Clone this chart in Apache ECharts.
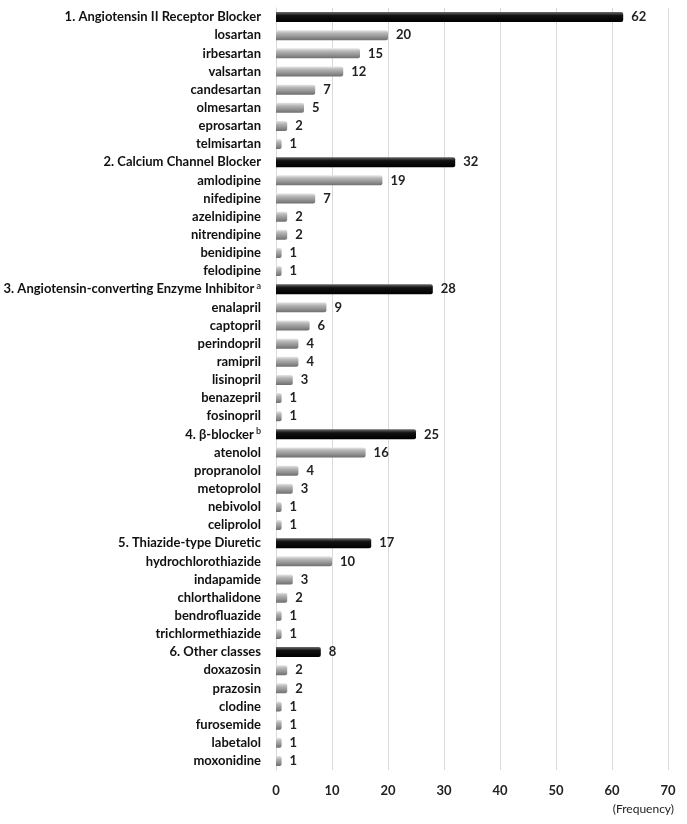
<!DOCTYPE html>
<html>
<head>
<meta charset="utf-8">
<script src="https://cdn.jsdelivr.net/npm/echarts@6/dist/echarts.min.js"></script>
<style>
  html, body { margin: 0; padding: 0; background: #fff; }
  #chart { width: 687px; height: 824px; }
</style>
</head>
<body>
<div id="chart"></div>
<script>
// category labels (top to bottom)
var labels = [
    "1. Angiotensin II Receptor Blocker", "losartan", "irbesartan", "valsartan", "candesartan", "olmesartan", "eprosartan", "telmisartan",
    "2. Calcium Channel Blocker", "amlodipine", "nifedipine", "azelnidipine", "nitrendipine", "benidipine", "felodipine",
    "3. Angiotensin-converting Enzyme Inhibitor", "enalapril", "captopril", "perindopril", "ramipril", "lisinopril", "benazepril", "fosinopril",
    "4. β-blocker", "atenolol", "propranolol", "metoprolol", "nebivolol", "celiprolol",
    "5. Thiazide-type Diuretic", "hydrochlorothiazide", "indapamide", "chlorthalidone", "bendrofluazide", "trichlormethiazide",
    "6. Other classes", "doxazosin", "prazosin", "clodine", "furosemide", "labetalol", "moxonidine"
];
var values = [
    62, 20, 15, 12, 7, 5, 2, 1,
    32, 19, 7, 2, 2, 1, 1,
    28, 9, 6, 4, 4, 3, 1, 1,
    25, 16, 4, 3, 1, 1,
    17, 10, 3, 2, 1, 1,
    8, 2, 2, 1, 1, 1, 1
];
// class rows drawn as black bars
var headerRows = [0, 8, 15, 23, 29, 35];
// footnote marks on some class labels
var footnotes = { "3. Angiotensin-converting Enzyme Inhibitor": "a", "4. β-blocker": "b" };
var xTicks = [0, 10, 20, 30, 40, 50, 60, 70];

var blackFill = new echarts.graphic.LinearGradient(0, 0, 0, 1, [
    { offset: 0, color: "#6a6a6a" },
    { offset: 0.35, color: "#111" },
    { offset: 1, color: "#000" }
]);
var grayFill = new echarts.graphic.LinearGradient(0, 0, 0, 1, [
    { offset: 0, color: "#e6e6e6" },
    { offset: 0.3, color: "#b5b5b5" },
    { offset: 0.7, color: "#8e8e8e" },
    { offset: 1, color: "#6e6e6e" }
]);

var seriesData = values.map(function (v, i) {
    var isHead = headerRows.indexOf(i) >= 0;
    return {
        value: v,
        itemStyle: {
            color: isHead ? blackFill : grayFill,
            borderRadius: [0, 2, 2, 0]
        }
    };
});

var mychart = echarts.init(document.getElementById("chart"));
var option = {
    animation: false,
    title: {
        text: "(Frequency)",
        right: 8,
        bottom: 4,
        textStyle: {
            fontFamily: "Lato",
            fontSize: 12,
            fontWeight: "normal",
            color: "#222"
        }
    },
    grid: {
        left: 276,
        right: 19,
        top: 8,
        bottom: 54
    },
    xAxis: {
        type: "value",
        min: xTicks[0],
        max: xTicks[xTicks.length - 1],
        interval: 10,
        axisLine: { show: false },
        axisTick: { show: false },
        splitLine: { lineStyle: { color: "#d9d9d9", width: 1 } },
        axisLabel: {
            margin: 14,
            fontFamily: "Lato",
            fontWeight: "bold",
            fontSize: 13,
            color: "#222"
        }
    },
    yAxis: {
        type: "category",
        inverse: true,
        data: labels,
        axisLine: { show: true, lineStyle: { color: "#d9d9d9" } },
        axisTick: { show: false },
        axisLabel: {
            margin: 15,
            fontFamily: "Lato",
            fontWeight: "bold",
            fontSize: 13,
            color: "#111",
            formatter: function (value) {
                if (footnotes[value]) {
                    return value + "{sup|" + footnotes[value] + "}";
                }
                return value;
            },
            rich: {
                sup: {
                    fontFamily: "Lato",
                    fontSize: 9,
                    color: "#333",
                    verticalAlign: "top",
                    padding: [0, 0, 6, 2]
                }
            }
        }
    },
    series: [
        {
            type: "bar",
            data: seriesData,
            barWidth: 10,
            label: {
                show: true,
                position: "right",
                distance: 8,
                fontFamily: "Lato",
                fontWeight: "bold",
                fontSize: 13,
                color: "#222"
            }
        }
    ]
};
mychart.setOption(option);
</script>
</body>
</html>
